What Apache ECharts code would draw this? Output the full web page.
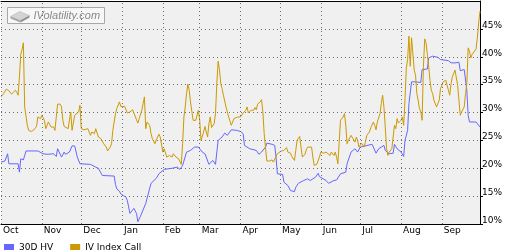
<!DOCTYPE html>
<html>
<head>
<meta charset="utf-8">
<script src="https://cdn.jsdelivr.net/npm/echarts@6/dist/echarts.min.js"></script>
<style>
html,body{margin:0;padding:0;background:#fff;}
#c{width:520px;height:250px;}
</style>
</head>
<body>
<div id="c"></div>
<script>
const monthNames = ['Jan','Feb','Mar','Apr','May','Jun','Jul','Aug','Sep','Oct','Nov','Dec'];
const monthStarts = ['2012-10-01','2012-11-01','2012-12-01','2013-01-01','2013-02-01','2013-03-01','2013-04-01','2013-05-01','2013-06-01','2013-07-01','2013-08-01','2013-09-01'];
const xRange = ['2012-10-01', '2013-09-30'];
const yTicks = [10, 15, 20, 25, 30, 35, 40, 45, 50];
const seriesNames = ['30D HV', 'IV Index Call'];

const hv30 = [
['2012-10-01',21.1],['2012-10-04',21.3],['2012-10-06',22.6],['2012-10-07',20.8],['2012-10-14',20.8],['2012-10-15',19.3],['2012-10-16',21.7],['2012-10-18',21.5],['2012-10-20',23.1],['2012-10-29',23.1],
['2012-11-02',22.6],['2012-11-05',22.5],['2012-11-10',22.6],['2012-11-12',22.1],['2012-11-13',23.5],['2012-11-16',22.0],['2012-11-18',22.9],['2012-11-19',22.5],['2012-11-22',22.9],['2012-11-24',24.0],['2012-11-26',24.0],['2012-11-28',22.0],['2012-11-30',20.8],
['2012-12-08',20.7],['2012-12-12',20.2],['2012-12-14',20.0],['2012-12-17',18.7],['2012-12-26',18.6],['2012-12-27',17.1],['2012-12-28',16.3],['2012-12-30',15.9],['2012-12-31',15.4],
['2013-01-02',15.1],['2013-01-04',14.8],['2013-01-05',14.2],['2013-01-07',11.9],['2013-01-08',11.9],['2013-01-10',12.8],['2013-01-12',11.9],['2013-01-13',10.4],['2013-01-15',11.4],['2013-01-19',13.7],['2013-01-23',17.3],['2013-01-27',18.2],['2013-01-29',19.0],
['2013-02-02',19.8],['2013-02-08',20.0],['2013-02-12',20.2],['2013-02-14',19.8],['2013-02-15',19.6],['2013-02-16',20.5],['2013-02-19',22.9],['2013-02-22',23.2],['2013-02-25',23.8],['2013-02-28',23.8],
['2013-03-03',22.9],['2013-03-05',22.6],['2013-03-08',20.7],['2013-03-11',21.4],['2013-03-13',20.7],['2013-03-15',25.0],['2013-03-18',25.6],['2013-03-20',26.3],['2013-03-22',25.9],['2013-03-25',26.9],['2013-03-29',26.8],
['2013-04-01',26.6],['2013-04-03',26.2],['2013-04-04',24.1],['2013-04-08',23.5],['2013-04-13',23.2],['2013-04-15',22.5],['2013-04-17',22.9],['2013-04-20',23.8],['2013-04-21',24.5],['2013-04-25',24.3],['2013-04-27',24.1],['2013-04-28',22.0],['2013-04-29',19.0],
['2013-05-03',18.9],['2013-05-04',17.5],['2013-05-07',16.9],['2013-05-09',16.0],['2013-05-12',15.8],['2013-05-13',16.6],['2013-05-15',17.3],['2013-05-19',17.8],['2013-05-22',18.1],['2013-05-24',17.8],['2013-05-28',18.4],['2013-05-30',19.1],['2013-05-31',18.5],
['2013-06-05',17.8],['2013-06-07',17.3],['2013-06-11',17.8],['2013-06-13',17.9],['2013-06-16',19.0],['2013-06-20',19.3],['2013-06-21',20.8],['2013-06-24',22.9],['2013-06-27',23.5],['2013-06-29',22.9],
['2013-07-01',23.8],['2013-07-10',24.3],['2013-07-13',22.7],['2013-07-15',23.5],['2013-07-19',24.1],['2013-07-20',23.2],['2013-07-23',22.6],['2013-07-26',22.7],['2013-07-27',24.3],['2013-07-29',23.5],
['2013-08-01',22.9],['2013-08-03',22.1],['2013-08-04',25.0],['2013-08-06',26.8],['2013-08-07',31.6],['2013-08-09',35.5],['2013-08-11',35.5],['2013-08-16',35.4],['2013-08-17',37.7],['2013-08-21',37.8],['2013-08-22',39.8],['2013-08-25',40.1],['2013-08-29',39.9],['2013-08-31',39.5],
['2013-09-06',39.3],['2013-09-08',38.9],['2013-09-11',38.9],['2013-09-14',39.0],['2013-09-15',37.5],['2013-09-18',37.7],['2013-09-20',34.0],['2013-09-21',29.5],['2013-09-22',28.3],['2013-09-27',28.3],['2013-09-28',28.6],['2013-09-30',27.4]
];

const ivCall = [
['2012-10-01',32.8],['2012-10-03',33.4],['2012-10-05',34.2],['2012-10-07',33.9],['2012-10-08',34.2],['2012-10-09',33.3],['2012-10-12',34.0],['2012-10-13',33.6],['2012-10-14',33.1],['2012-10-15',36.4],['2012-10-16',40.4],['2012-10-17',41.3],['2012-10-18',42.5],['2012-10-19',31.0],['2012-10-21',27.7],['2012-10-22',26.8],['2012-10-24',26.6],['2012-10-26',26.9],['2012-10-28',27.5],['2012-10-29',29.2],['2012-10-31',28.9],
['2012-11-01',29.5],['2012-11-03',28.6],['2012-11-04',27.1],['2012-11-05',27.7],['2012-11-06',28.3],['2012-11-07',28.3],['2012-11-08',27.4],['2012-11-10',27.4],['2012-11-11',26.8],['2012-11-12',29.2],['2012-11-13',31.5],['2012-11-15',31.5],['2012-11-16',31.0],['2012-11-17',28.6],['2012-11-18',27.5],['2012-11-19',27.7],['2012-11-21',27.1],['2012-11-22',27.4],['2012-11-23',30.1],['2012-11-24',26.8],['2012-11-26',29.5],['2012-11-27',29.5],['2012-11-29',30.1],['2012-11-30',31.3],
['2012-12-01',27.1],['2012-12-03',26.9],['2012-12-06',27.1],['2012-12-07',26.8],['2012-12-08',25.9],['2012-12-09',26.5],['2012-12-11',26.2],['2012-12-12',27.1],['2012-12-14',25.6],['2012-12-16',25.3],['2012-12-18',24.4],['2012-12-20',23.8],['2012-12-21',23.1],['2012-12-23',23.8],['2012-12-24',24.4],['2012-12-25',26.8],['2012-12-27',29.8],['2012-12-28',30.7],['2012-12-29',30.4],['2012-12-30',31.9],['2012-12-31',31.1],
['2013-01-03',31.1],['2013-01-05',29.9],['2013-01-07',30.1],['2013-01-09',30.5],['2013-01-10',30.7],['2013-01-12',28.7],['2013-01-13',28.1],['2013-01-14',28.9],['2013-01-16',30.4],['2013-01-17',31.6],['2013-01-18',32.8],['2013-01-19',27.1],['2013-01-20',28.3],['2013-01-22',27.7],['2013-01-23',26.2],['2013-01-24',25.3],['2013-01-26',24.4],['2013-01-27',25.1],['2013-01-29',26.1],['2013-01-30',25.6],['2013-01-31',25.3],
['2013-02-01',22.9],['2013-02-02',23.5],['2013-02-03',23.2],['2013-02-04',22.0],['2013-02-06',22.3],['2013-02-08',22.0],['2013-02-09',22.6],['2013-02-10',22.9],['2013-02-11',22.0],['2013-02-13',21.7],['2013-02-14',21.4],['2013-02-15',20.7],['2013-02-16',24.4],['2013-02-17',29.2],['2013-02-18',31.0],['2013-02-19',33.4],['2013-02-20',35.1],['2013-02-21',34.0],['2013-02-22',31.9],['2013-02-24',28.6],['2013-02-25',28.3],['2013-02-26',28.6],['2013-02-28',30.4],
['2013-03-01',28.6],['2013-03-02',25.0],['2013-03-03',25.3],['2013-03-04',26.5],['2013-03-05',27.5],['2013-03-06',26.5],['2013-03-07',25.6],['2013-03-08',28.0],['2013-03-09',29.2],['2013-03-10',27.3],['2013-03-12',28.0],['2013-03-13',29.8],['2013-03-14',35.2],['2013-03-15',39.2],['2013-03-16',37.7],['2013-03-17',35.2],['2013-03-18',34.3],['2013-03-19',33.1],['2013-03-21',31.0],['2013-03-22',30.1],['2013-03-23',29.2],['2013-03-25',27.7],['2013-03-26',28.3],['2013-03-27',28.9],['2013-03-30',29.2],
['2013-04-01',29.2],['2013-04-03',29.9],['2013-04-05',30.4],['2013-04-06',31.0],['2013-04-07',29.9],['2013-04-09',30.4],['2013-04-11',30.4],['2013-04-12',30.9],['2013-04-13',30.5],['2013-04-14',31.5],['2013-04-16',31.9],['2013-04-17',32.3],['2013-04-18',30.1],['2013-04-19',26.2],['2013-04-21',21.3],['2013-04-23',21.3],['2013-04-25',21.5],['2013-04-26',21.1],['2013-04-27',21.4],['2013-04-29',22.6],['2013-04-30',22.9],
['2013-05-02',23.1],['2013-05-04',23.2],['2013-05-06',23.7],['2013-05-07',22.9],['2013-05-09',22.7],['2013-05-10',22.1],['2013-05-11',22.3],['2013-05-12',21.4],['2013-05-13',23.2],['2013-05-14',25.0],['2013-05-16',25.7],['2013-05-17',23.8],['2013-05-18',22.0],['2013-05-20',22.5],['2013-05-21',23.3],['2013-05-22',23.8],['2013-05-23',24.1],['2013-05-25',23.8],['2013-05-26',22.0],['2013-05-27',20.5],['2013-05-29',20.7],['2013-05-30',20.7],['2013-05-31',22.0],
['2013-06-01',22.9],['2013-06-03',22.7],['2013-06-05',22.9],['2013-06-06',22.6],['2013-06-08',22.3],['2013-06-09',22.9],['2013-06-11',22.3],['2013-06-12',22.9],['2013-06-13',22.0],['2013-06-14',20.8],['2013-06-15',24.7],['2013-06-16',28.6],['2013-06-18',29.2],['2013-06-19',29.8],['2013-06-20',27.7],['2013-06-21',24.4],['2013-06-22',25.0],['2013-06-24',25.9],['2013-06-25',25.9],['2013-06-27',24.7],['2013-06-28',25.6],['2013-06-29',25.0],['2013-06-30',23.8],
['2013-07-02',24.5],['2013-07-04',23.8],['2013-07-06',25.9],['2013-07-08',26.5],['2013-07-09',27.3],['2013-07-11',28.3],['2013-07-12',27.7],['2013-07-13',26.9],['2013-07-14',28.3],['2013-07-15',28.6],['2013-07-16',29.8],['2013-07-17',31.6],['2013-07-18',33.1],['2013-07-19',31.0],['2013-07-20',27.4],['2013-07-21',23.5],['2013-07-22',22.3],['2013-07-23',22.9],['2013-07-25',23.5],['2013-07-26',25.6],['2013-07-27',27.7],['2013-07-28',27.1],['2013-07-29',28.9],['2013-07-30',28.1],
['2013-08-01',28.6],['2013-08-02',29.2],['2013-08-03',27.7],['2013-08-04',32.2],['2013-08-05',38.0],['2013-08-06',39.5],['2013-08-07',43.7],['2013-08-08',38.3],['2013-08-09',43.4],['2013-08-10',43.7],['2013-08-11',37.6],['2013-08-12',36.7],['2013-08-13',33.4],['2013-08-14',32.2],['2013-08-15',30.7],['2013-08-16',30.1],['2013-08-17',28.6],['2013-08-18',38.3],['2013-08-19',43.2],['2013-08-20',42.5],['2013-08-21',40.4],['2013-08-22',38.3],['2013-08-23',35.8],['2013-08-24',34.0],['2013-08-25',33.4],['2013-08-26',32.2],['2013-08-28',31.0],['2013-08-29',30.7],['2013-08-30',32.2],['2013-08-31',34.3],
['2013-09-01',34.8],['2013-09-02',35.5],['2013-09-04',35.8],['2013-09-05',36.1],['2013-09-06',34.0],['2013-09-07',33.1],['2013-09-08',35.2],['2013-09-09',36.4],['2013-09-11',37.6],['2013-09-12',37.9],['2013-09-13',34.9],['2013-09-14',32.2],['2013-09-15',29.5],['2013-09-16',30.1],['2013-09-18',31.0],['2013-09-19',33.4],['2013-09-20',35.2],['2013-09-21',41.6],['2013-09-22',41.0],['2013-09-23',39.8],['2013-09-24',40.4],['2013-09-27',41.4],['2013-09-28',43.4],['2013-09-29',46.1],['2013-09-30',48.2]
];

const chart = echarts.init(document.getElementById('c'), null, {renderer: 'canvas'});
const FONT = 'DejaVu Sans';
const gridDash = {color: '#6e6e6e', width: 1, type: [1, 3]};

chart.setOption({
  animation: false,
  backgroundColor: '#ffffff',
  grid: {left: 1, right: 40, top: 1, bottom: 26, show: true, backgroundColor: '#f0f0f0', borderWidth: 0},
  legend: {
    data: seriesNames, left: -1, top: 238, icon: 'rect', itemWidth: 10, itemHeight: 7, itemGap: 17,
    textStyle: {fontFamily: FONT, fontSize: 9, color: '#000'},
    selectedMode: false
  },
  xAxis: [{
    type: 'time', min: xRange[0], max: xRange[1], splitNumber: 12,
    axisLine: {show: true, lineStyle: {color: '#000', width: 1}},
    axisTick: {show: false},
    splitLine: {show: false},
    axisLabel: {
      interval: 0, hideOverlap: false,
      showMaxLabel: false, showMinLabel: true,
      fontFamily: FONT, fontSize: 9, color: '#000', align: 'left', margin: 2, padding: [0, 0, 0, 2],
      formatter: function (v) {
        const d = new Date(v);
        return d.getDate() === 1 ? monthNames[d.getMonth()] : '';
      }
    }
  }, {
    type: 'time', position: 'top', min: xRange[0], max: xRange[1],
    axisLine: {show: true, lineStyle: {color: '#000', width: 1}},
    axisTick: {show: false}, axisLabel: {show: false}, splitLine: {show: false}
  }],
  yAxis: {
    type: 'value', position: 'right', min: yTicks[0], max: yTicks[yTicks.length - 1], interval: 5,
    axisLine: {show: true, lineStyle: {color: '#000', width: 1}},
    axisTick: {show: true, inside: false, length: 3, lineStyle: {color: '#000'}},
    splitLine: {show: true, lineStyle: gridDash},
    axisLabel: {
      showMaxLabel: false, fontFamily: FONT, fontSize: 9, color: '#000', margin: 2,
      verticalAlign: 'bottom', lineHeight: 7,
      formatter: function (v) { return v + '%'; }
    }
  },
  graphic: [{
    type: 'group', left: 7, top: 7, z: 100,
    children: [
      {type: 'rect', shape: {x: 0, y: 0, width: 97, height: 16}, style: {fill: '#f7f7f7', stroke: '#a8a8a8', lineWidth: 1}},
      {type: 'polygon', shape: {points: [[3, 9], [12, 4], [22, 8], [13, 13]]}, style: {fill: '#d4d4d4', stroke: '#b0b0b0', lineWidth: 0.5}},
      {type: 'polygon', shape: {points: [[3, 9], [13, 13], [13, 15], [3, 11]]}, style: {fill: '#a6a6a6'}},
      {type: 'polygon', shape: {points: [[13, 13], [22, 8], [22, 10], [13, 15]]}, style: {fill: '#8c8c8c'}},
      {type: 'text', x: 26, y: 8, style: {text: 'IVolatility.com', fill: '#8a8a8a', font: 'italic 11px "Liberation Sans"', verticalAlign: 'middle', textAlign: 'left'}}
    ]
  }],
  series: [{
    name: seriesNames[0], type: 'line', data: hv30, showSymbol: false, symbol: 'none',
    lineStyle: {color: '#6666ff', width: 1}, itemStyle: {color: '#6666ff'}, z: 3,
    markLine: {
      silent: true, symbol: 'none', animation: false,
      label: {show: false},
      lineStyle: gridDash, emphasis: {disabled: true},
      data: monthStarts.map(function (m) { return {xAxis: m}; })
    }
  }, {
    name: seriesNames[1], type: 'line', data: ivCall, showSymbol: false, symbol: 'none',
    lineStyle: {color: '#cc9900', width: 1}, itemStyle: {color: '#cc9900'}, z: 4
  }]
});
</script>
</body>
</html>
